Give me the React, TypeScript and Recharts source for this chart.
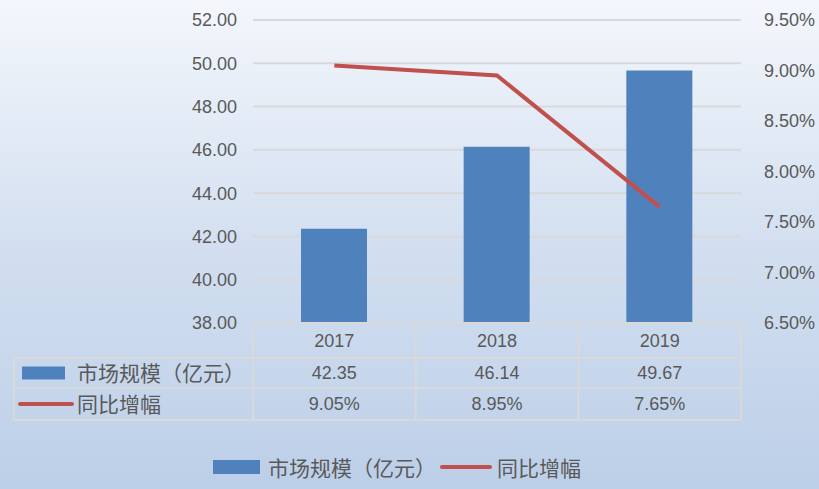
import { ComposedChart, Bar, Line, XAxis, YAxis, CartesianGrid, Legend } from 'recharts';

const years = ['2017', '2018', '2019'];
const marketSize = [42.35, 46.14, 49.67]; // 亿元
const growthRate = [9.05, 8.95, 7.65]; // %
const leftTicks = [38, 40, 42, 44, 46, 48, 50, 52];
const rightTicks = [6.5, 7.0, 7.5, 8.0, 8.5, 9.0, 9.5];

const SIZE_NAME = '市场规模（亿元）';
const RATE_NAME = '同比增幅';

const W = 819;
const H = 489;
const PLOT_LEFT = 253;
const PLOT_RIGHT = 741;
const PLOT_TOP = 20;
const PLOT_BOTTOM = 323;
const ROW_H = [35, 30, 32];
const TABLE_LEFT = 14;

const TEXT = '#595959';
const BORDER = '#d9d9d9';
const BLUE = '#4f81bd';
const RED = '#c0504d';
const NUM_FONT = '"Liberation Sans", Arial, sans-serif';
const CJK_FONT = '"Noto Sans CJK SC", sans-serif';

const data = years.map((year, i) => ({ year, size: marketSize[i], rate: growthRate[i] }));

const colW = (PLOT_RIGHT - PLOT_LEFT) / years.length;
const rowY = [PLOT_BOTTOM, PLOT_BOTTOM + ROW_H[0], PLOT_BOTTOM + ROW_H[0] + ROW_H[1], PLOT_BOTTOM + ROW_H[0] + ROW_H[1] + ROW_H[2]];

// x axis tick draws one column of the data table; the first one also draws the row headers
function TableTick(props: any) {
  const { x, payload, index } = props;
  const i = index as number;
  const left = x - colW / 2;
  const right = x + colW / 2;
  const mid = (a: number, b: number) => (a + b) / 2;
  return (
    <g>
      {i === 0 && (
        <g>
          <line x1={TABLE_LEFT} x2={PLOT_RIGHT} y1={rowY[1]} y2={rowY[1]} stroke={BORDER} strokeWidth={2} />
          <line x1={TABLE_LEFT} x2={PLOT_RIGHT} y1={rowY[2]} y2={rowY[2]} stroke={BORDER} strokeWidth={2} />
          <line x1={TABLE_LEFT} x2={PLOT_RIGHT} y1={rowY[3]} y2={rowY[3]} stroke={BORDER} strokeWidth={2} />
          <line x1={TABLE_LEFT} x2={TABLE_LEFT} y1={rowY[1]} y2={rowY[3]} stroke={BORDER} strokeWidth={2} />
          <line x1={left} x2={left} y1={rowY[0]} y2={rowY[3]} stroke={BORDER} strokeWidth={2} />
          <rect x={22} y={mid(rowY[1], rowY[2]) - 6.5} width={43} height={13} fill={BLUE} />
          <text x={77} y={mid(rowY[1], rowY[2])} dy="0.36em" fontSize={21} fill={TEXT} fontFamily={CJK_FONT}>
            {SIZE_NAME}
          </text>
          <line x1={20} x2={72} y1={mid(rowY[2], rowY[3])} y2={mid(rowY[2], rowY[3])} stroke={RED} strokeWidth={4} strokeLinecap="round" />
          <text x={77} y={mid(rowY[2], rowY[3])} dy="0.36em" fontSize={21} fill={TEXT} fontFamily={CJK_FONT}>
            {RATE_NAME}
          </text>
        </g>
      )}
      <line x1={right} x2={right} y1={rowY[0]} y2={rowY[3]} stroke={BORDER} strokeWidth={2} />
      <text x={x} y={mid(rowY[0], rowY[1])} dy="0.35em" textAnchor="middle" fontSize={18} fill={TEXT} fontFamily={NUM_FONT}>
        {payload.value}
      </text>
      <text x={x} y={mid(rowY[1], rowY[2])} dy="0.35em" textAnchor="middle" fontSize={18} fill={TEXT} fontFamily={NUM_FONT}>
        {marketSize[i].toFixed(2)}
      </text>
      <text x={x} y={mid(rowY[2], rowY[3])} dy="0.35em" textAnchor="middle" fontSize={18} fill={TEXT} fontFamily={NUM_FONT}>
        {growthRate[i].toFixed(2)}%
      </text>
    </g>
  );
}

function BottomLegend() {
  return (
    <div style={{ display: 'flex', alignItems: 'center', height: 30, paddingLeft: 213, color: TEXT, fontFamily: CJK_FONT, fontSize: 21 }}>
      <span style={{ display: 'inline-block', width: 47, height: 14, background: BLUE, marginRight: 8 }} />
      <span>{SIZE_NAME}</span>
      <span style={{ display: 'inline-block', width: 52, height: 4, borderRadius: 2, background: RED, marginLeft: 4, marginRight: 5 }} />
      <span>{RATE_NAME}</span>
    </div>
  );
}

export default function App() {
  return (
    <div
      style={{
        position: 'absolute',
        left: 0,
        top: 0,
        width: W,
        height: H,
        background: 'linear-gradient(180deg, #f4f7fc 0%, #d3dff0 50%, #bccfe8 100%)',
      }}
    >
      <ComposedChart
        width={W}
        height={H}
        data={data}
        margin={{ top: PLOT_TOP, left: PLOT_LEFT - 70, right: W - PLOT_RIGHT - 75, bottom: 7 }}
      >
        <CartesianGrid yAxisId="left" vertical={false} stroke={BORDER} strokeWidth={2} />
        <XAxis
          dataKey="year"
          height={129}
          axisLine={{ stroke: BORDER, strokeWidth: 2 }}
          tickLine={false}
          interval={0}
          tick={<TableTick />}
        />
        <YAxis
          yAxisId="left"
          width={70}
          domain={[38, 52]}
          ticks={leftTicks}
          interval={0}
          axisLine={false}
          tickLine={false}
          tickMargin={10}
          tickFormatter={(v: number) => v.toFixed(2)}
          tick={{ fill: TEXT, fontSize: 18, fontFamily: NUM_FONT }}
        />
        <YAxis
          yAxisId="right"
          orientation="right"
          width={75}
          domain={[6.5, 9.5]}
          ticks={rightTicks}
          interval={0}
          axisLine={false}
          tickLine={false}
          tickMargin={17}
          tickFormatter={(v: number) => `${v.toFixed(2)}%`}
          tick={{ fill: TEXT, fontSize: 18, fontFamily: NUM_FONT }}
        />
        <Bar yAxisId="left" dataKey="size" name={SIZE_NAME} fill={BLUE} barSize={66} isAnimationActive={false} />
        <Line
          yAxisId="right"
          dataKey="rate"
          name={RATE_NAME}
          type="linear"
          stroke={RED}
          strokeWidth={4}
          dot={false}
          isAnimationActive={false}
        />
        <Legend
          verticalAlign="bottom"
          height={30}
          wrapperStyle={{ left: 0, width: W }}
          content={<BottomLegend />}
        />
      </ComposedChart>
    </div>
  );
}
